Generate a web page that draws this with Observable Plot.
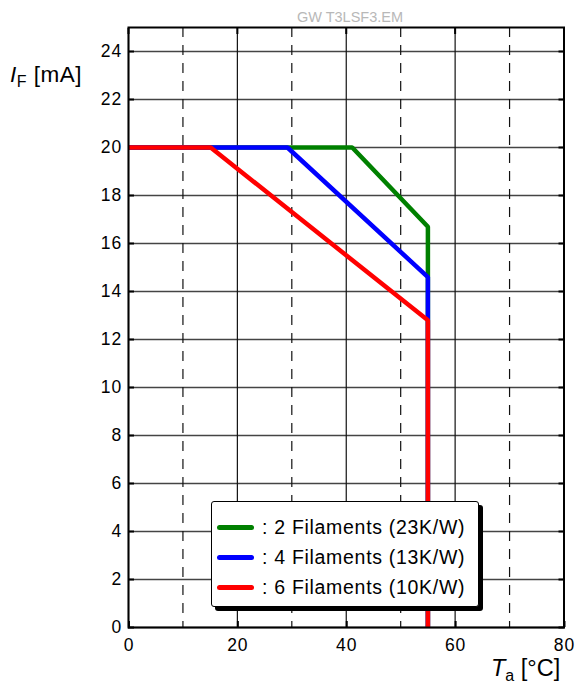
<!DOCTYPE html>
<html><head><meta charset="utf-8">
<script src="https://cdn.jsdelivr.net/npm/d3@7"></script>
<script src="https://cdn.jsdelivr.net/npm/@observablehq/plot@0.6"></script>
<style>
body{margin:0;background:#fff;font-family:"Liberation Sans",Arial,sans-serif;}
#wrap{position:relative;width:576px;height:695px;}
.abs{position:absolute;white-space:nowrap;line-height:normal;}
#title{left:0;width:700px;text-align:center;top:9px;font-size:14.5px;color:#b8b8b8;}
#ylab{left:10px;top:62px;font-size:22.5px;letter-spacing:0.5px;}
#xlab{left:491px;top:655px;font-size:23.5px;}
sub{font-size:16px;vertical-align:-5px;line-height:0;}
#legend{left:211px;top:501px;width:266px;height:104px;border:1.5px solid #000;background:#fff;border-radius:3px;box-shadow:4px 4px 0 #000;}
.row{position:absolute;left:5px;font-size:19.5px;letter-spacing:0.7px;display:flex;align-items:center;}
.sw{display:inline-block;width:37px;height:5px;border-radius:2.5px;margin-right:8px;}
#chart svg text{font-size:17.5px;letter-spacing:1px;}
</style></head>
<body><div id="wrap">
<div id="chart"></div>
<div class="abs" id="title">GW T3LSF3.EM</div>
<div class="abs" id="ylab"><i>I</i><sub>F</sub> [mA]</div>
<div class="abs" id="xlab"><i>T</i><sub>a</sub> [°C]</div>
<div class="abs" id="legend"></div>
</div>
<script>
const seriesNames = [": 2 Filaments (23K/W)", ": 4 Filaments (13K/W)", ": 6 Filaments (10K/W)"];
const seriesColors = ["#008000", "#0000ff", "#ff0000"];
const tempGreen = [0, 41.1, 55, 55];
const currGreen = [20, 20, 16.7, 0];
const tempBlue = [0, 29.2, 55, 55];
const currBlue = [20, 20, 14.6, 0];
const tempRed = [0, 15.1, 55, 55];
const currRed = [20, 20, 12.8, 0];
const xTicks = [0, 20, 40, 60, 80];
const xDashed = [10, 30, 50, 70];
const yTicks = [0, 2, 4, 6, 8, 10, 12, 14, 16, 18, 20, 22, 24];

const temps = [tempGreen, tempBlue, tempRed];
const currs = [currGreen, currBlue, currRed];
const rows = [];
temps.forEach((t, s) => t.forEach((x, i) => rows.push({s, x, y: currs[s][i]})));

const plot = Plot.plot({
  width: 576, height: 695,
  marginLeft: 128, marginRight: 12.5, marginTop: 27, marginBottom: 68,
  style: {fontFamily: '"Liberation Sans", Arial, sans-serif', fontSize: "17.5px", color: "#000", background: "#fff"},
  x: {domain: [0, 80], label: null},
  y: {domain: [0, 25], label: null},
  marks: [
    Plot.ruleY(yTicks, {stroke: "#444", strokeWidth: 1.3}),
    Plot.ruleX(xTicks, {stroke: "#111", strokeWidth: 1.2}),
    Plot.ruleX(xDashed, {stroke: "#111", strokeWidth: 1.2, strokeDasharray: "10,8"}),
    Plot.axisX(xTicks, {tickSize: -6, tickPadding: 17.5, strokeWidth: 2, dx: 0.5}),
    Plot.axisX(xTicks, {anchor: "top", tickSize: -6, strokeWidth: 2, tickFormat: () => ""}),
    Plot.axisY(yTicks, {tickSize: -6, tickPadding: 12.3, strokeWidth: 2}),
    Plot.axisY(yTicks, {anchor: "right", tickSize: -6, strokeWidth: 2, tickFormat: () => ""}),
    Plot.line(rows, {x: "x", y: "y", z: "s", stroke: d => seriesColors[d.s], strokeWidth: 4.5, strokeLinejoin: "miter", strokeLinecap: "butt"}),
    Plot.frame({stroke: "#000", strokeWidth: 2})
  ]
});
document.getElementById("chart").appendChild(plot);

const leg = document.getElementById("legend");
seriesNames.forEach((n, i) => {
  const r = document.createElement("div");
  r.className = "row";
  r.style.top = (14 + i * 30) + "px";
  r.innerHTML = `<span class="sw" style="background:${seriesColors[i]}"></span><span>${n}</span>`;
  leg.appendChild(r);
});
</script>
</body></html>
